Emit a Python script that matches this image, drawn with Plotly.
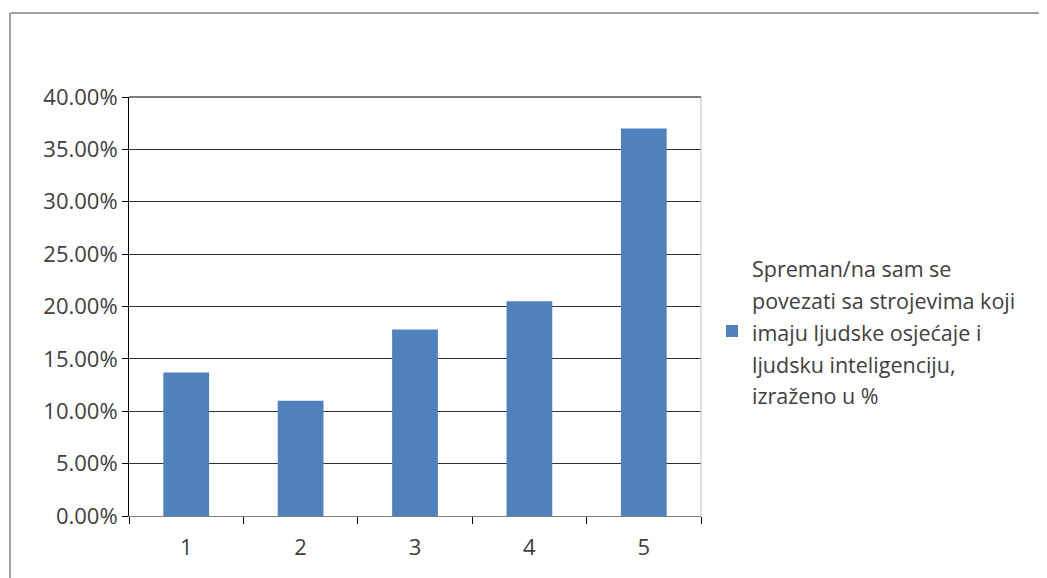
import plotly.graph_objects as go

categories = ["1", "2", "3", "4", "5"]
values = [0.137, 0.110, 0.178, 0.205, 0.370]
series_lines = [
    "Spreman/na sam se",
    "povezati sa strojevima koji",
    "imaju ljudske osjećaje i",
    "ljudsku inteligenciju,",
    "izraženo u %",
]
y_ticks = [0, 0.05, 0.10, 0.15, 0.20, 0.25, 0.30, 0.35, 0.40]

FONT = "Open Sans, Liberation Sans, sans-serif"
name = "<br>".join(f'<span style="font-size:21.5px">{l}</span>' for l in series_lines)

fig = go.Figure()
fig.add_trace(go.Bar(
    x=categories, y=values, name=name,
    marker=dict(color="#4F81BD", line=dict(width=0)),
    showlegend=True,
))

OFF = 8  # page body margin
W, H = 1047 - OFF, 578 - OFF
L, R, T, B = 129 - OFF, 346, 97 - OFF, 62
pw = W - L - R
ph = H - T - B

def px(x):
    return (x - OFF - L) / pw

def py(y):
    return (H - B - (y - OFF)) / ph

fig.update_layout(
    width=W, height=H,
    margin=dict(l=L, r=R, t=T, b=B),
    paper_bgcolor="white", plot_bgcolor="white",
    font=dict(family=FONT, color="#404040", size=21),
    bargap=0.6,
    showlegend=True,
    legend=dict(
        x=px(712), y=py(331), xanchor="left", yanchor="middle",
        xref="paper", yref="paper",
        font=dict(size=24.6, family=FONT, color="#404040"),
        bgcolor="rgba(0,0,0,0)", itemwidth=30,
    ),
    xaxis=dict(
        type="category", showgrid=False, showline=True, linecolor="#7f7f7f", linewidth=1,
        ticks="outside", tickson="boundaries", ticklen=7, tickcolor="#000000",
        ticklabelstandoff=12,
        tickfont=dict(size=22, family=FONT, color="#404040"),
    ),
    yaxis=dict(
        range=[0, 0.4], tickvals=y_ticks, tickformat=".2%",
        showgrid=True, gridcolor="#303030", gridwidth=1,
        showline=True, linecolor="#000000", linewidth=1,
        ticks="outside", ticklen=6, tickcolor="#000000",
        tickfont=dict(size=22, family=FONT, color="#404040"),
        zeroline=False,
    ),
    shapes=[
        dict(type="line", xref="paper", yref="paper", x0=1, x1=1, y0=0, y1=1,
             line=dict(color="#bfbfbf", width=1)),
        dict(type="line", xref="paper", yref="paper", x0=0, x1=1, y0=1, y1=1,
             line=dict(color="#000000", width=1)),
        dict(type="line", xref="paper", yref="paper", x0=px(10), x1=px(1047), y0=py(13), y1=py(13),
             line=dict(color="#a0a0a0", width=2)),
        dict(type="line", xref="paper", yref="paper", x0=px(10), x1=px(10), y0=py(13), y1=py(578),
             line=dict(color="#a0a0a0", width=2)),
    ],
)

fig.write_html("out.html")
